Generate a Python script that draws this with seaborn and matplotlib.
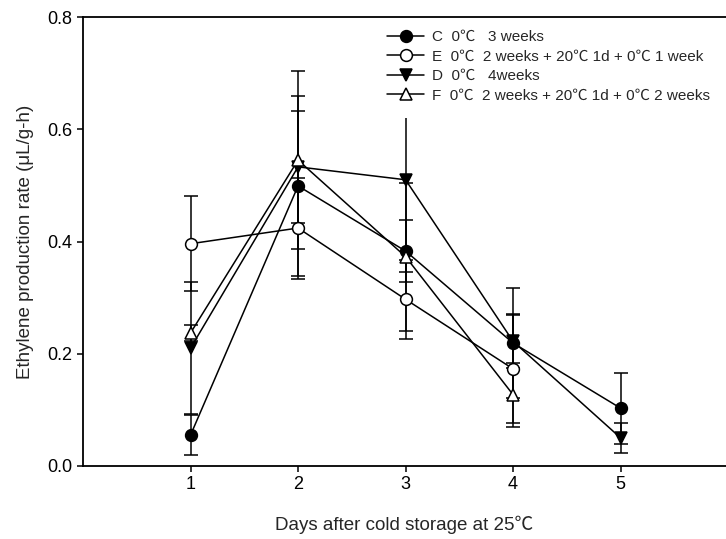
import matplotlib
matplotlib.use("Agg")
import matplotlib.pyplot as plt
import seaborn as sns
import pandas as pd
import numpy as np

sns.set_style("ticks")
plt.rcParams['font.family'] = ['Liberation Sans', 'Noto Sans CJK SC', 'DejaVu Sans']

days = [1, 2, 3, 4, 5]
labels = ["C  0℃   3 weeks",
          "E  0℃  2 weeks + 20℃ 1d + 0℃ 1 week",
          "D  0℃   4weeks",
          "F  0℃  2 weeks + 20℃ 1d + 0℃ 2 weeks"]
C_vals = [0.055, 0.499, 0.383, 0.219, 0.103]
C_err = [0.036, 0.160, 0.055, 0.098, 0.063]
E_vals = [0.396, 0.424, 0.297, 0.173]
E_err = [0.085, 0.090, 0.070, 0.097]
D_vals = [0.210, 0.533, 0.510, 0.222, 0.050]
D_err = [0.118, 0.100, 0.164, 0.047, 0.027]
F_vals = [0.237, 0.545, 0.373, 0.127]
F_err = [0.015, 0.158, 0.132, 0.057]

series = [
    (labels[0], C_vals, C_err, 'o', 'black'),
    (labels[1], E_vals, E_err, 'o', 'white'),
    (labels[2], D_vals, D_err, 'v', 'black'),
    (labels[3], F_vals, F_err, '^', 'white'),
]

fig = plt.figure(figsize=(7.26, 5.39), dpi=100)
ax = fig.add_axes([83/726, 1-466/539, 1-83/726, (466-17)/539])

for name, vals, errs, mk, fc in series:
    x = days[:len(vals)]
    df = pd.DataFrame({"day": x, "rate": vals})
    ax.errorbar(x, vals, yerr=errs, fmt='none', ecolor='black',
                elinewidth=1.1, capsize=5, capthick=1.1, zorder=2)
    sns.lineplot(data=df, x="day", y="rate", ax=ax, color='black',
                 linewidth=1.1, marker=mk, markersize=8.5,
                 markerfacecolor=fc, markeredgecolor='black',
                 markeredgewidth=1.1, label=name, zorder=3)

ax.set_xlim(0, 5.98)
ax.set_ylim(0, 0.8)
ax.set_xticks(days)
ax.set_yticks([0.0, 0.2, 0.4, 0.6, 0.8])
ax.set_yticklabels(["0.0", "0.2", "0.4", "0.6", "0.8"])
ax.tick_params(direction='out', length=4, width=1.1, labelsize=13, colors='black')
for s in ['left', 'bottom', 'top']:
    ax.spines[s].set_linewidth(1.3)
    ax.spines[s].set_color('black')
    ax.spines[s].set_zorder(6)
ax.spines['right'].set_visible(False)

ax.set_xlabel("Days after cold storage at 25℃", fontsize=13.5, labelpad=16)
ax.set_ylabel("Ethylene production rate (μL/g-h)", fontsize=13.5, labelpad=10)

leg = ax.legend(loc='upper left', bbox_to_anchor=(372/726, 1-15/539),
                bbox_transform=fig.transFigure, fontsize=11, frameon=True,
                handlelength=2.4, handletextpad=0.5, labelspacing=0.36,
                borderpad=1.0, borderaxespad=0)
leg.get_frame().set_edgecolor('none')
leg.get_frame().set_facecolor('white')
leg.get_frame().set_alpha(1)

fig.savefig("out.png", dpi=100)
